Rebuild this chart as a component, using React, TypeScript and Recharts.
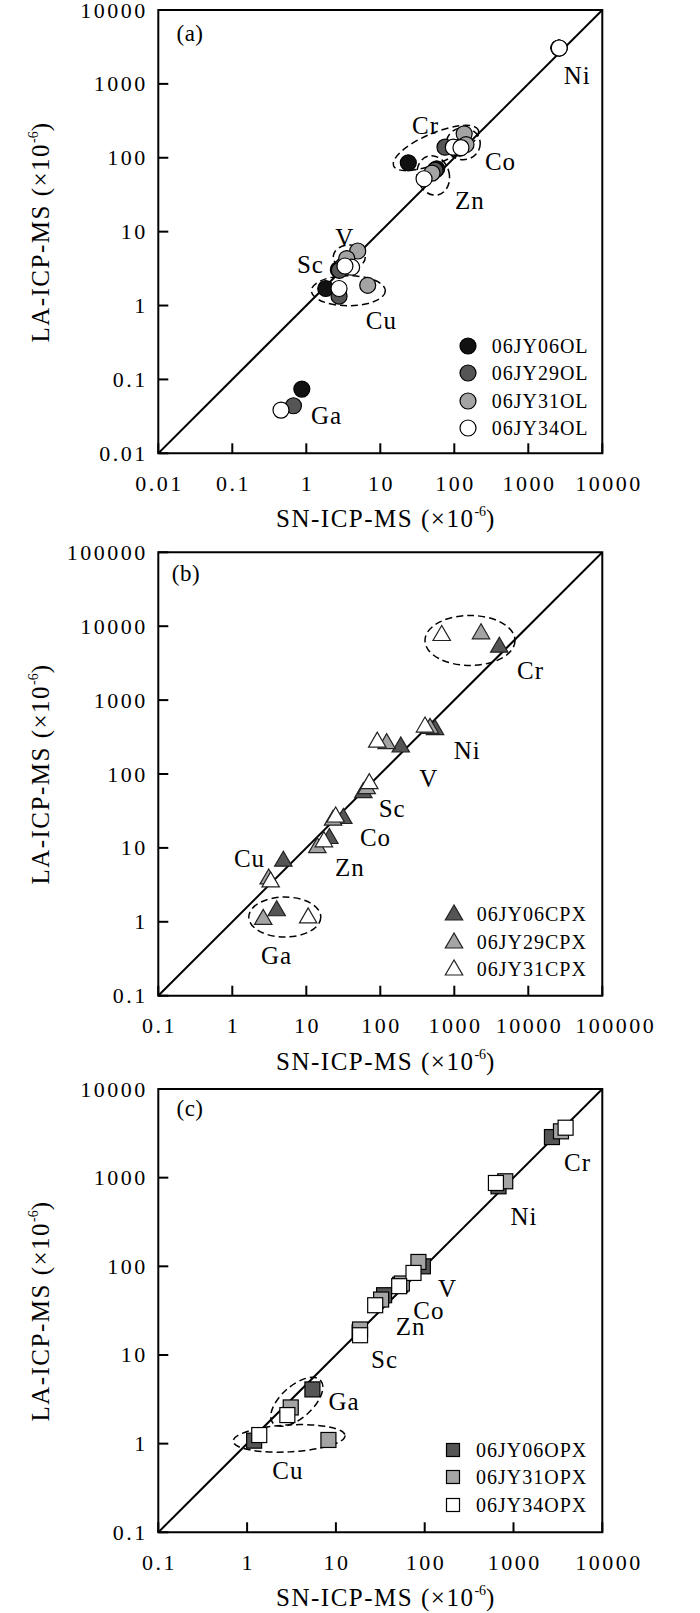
import React from 'react';
import { ScatterChart, Scatter, XAxis, YAxis, ReferenceArea } from 'recharts';

const SERIF = '"Liberation Serif", "Times New Roman", serif';
const BLACK = '#111111';
const DARK = '#555555';
const GREY = '#a4a4a4';
const WHITE = '#ffffff';

// (a) olivine
const OL_ELEMENTS = ['Ni', 'Cr', 'Co', 'Zn', 'V', 'Sc', 'Cu', 'Ga'];
const OL06_SN = [2600, 23.9, 118, 57.8, 3.2, 2.71, 1.83, 0.87];
const OL06_LA = [3060, 85.5, 135, 71, 3.5, 3.06, 1.7, 0.074];
const OL29_SN = [2600, 74.8, 120, 55, 3.0, 2.8, 2.77, 0.67];
const OL29_LA = [3060, 139, 140, 68, 3.3, 3.0, 1.34, 0.044];
const OL31_SN = [2600, 136, 144, 50, 4.95, 3.52, 6.76, null];
const OL31_LA = [3060, 211, 151, 62, 5.47, 4.32, 1.88, null];
const OL34_SN = [2620, 97, 123, 39, 4.1, 3.33, 2.77, 0.455];
const OL34_LA = [3060, 139, 137, 52, 3.3, 3.43, 1.7, 0.0385];
const OL_LABEL_SN = [4510, 40.2, 415, 160, 3.26, 1.12, 10.2, 1.85];
const OL_LABEL_LA = [1295, 273, 90, 26.5, 8.3, 3.61, 0.62, 0.0322];
const A_TICKS = [0.01, 0.1, 1, 10, 100, 1000, 10000];

// (b) clinopyroxene
const CPX_ELEMENTS = ['Cr', 'Ni', 'V', 'Sc', 'Co', 'Zn', 'Cu', 'Ga'];
const CPX06_SN = [4056, 549, 189, 59, 31.6, 20.5, 4.89, 3.98];
const CPX06_LA = [5200, 398, 232, 56, 25, 13.4, 6.61, 1.41];
const CPX29_SN = [2296, 470, 122, 65.5, 23, 14.1, 3.1, 2.62];
const CPX29_LA = [7890, 415, 258, 63.5, 23.7, 10.1, 3.8, 1.08];
const CPX31_SN = [676, 402, 91, 71, 24.9, 17.3, 3.3, 10.6];
const CPX31_LA = [7480, 432, 270, 74, 26.2, 12.1, 3.47, 1.13];
const CPX_LABEL_SN = [10540, 1472, 445, 142.6, 84.8, 38.1, 1.68, 3.9];
const CPX_LABEL_LA = [2520, 209, 86.7, 34.1, 13.8, 5.43, 7.19, 0.355];
const B_TICKS = [0.1, 1, 10, 100, 1000, 10000, 100000];

// (c) orthopyroxene
const OPX_ELEMENTS = ['Cr', 'Ni', 'V', 'Co', 'Zn', 'Sc', 'Ga', 'Cu'];
const OPX06_SN = [2710, 678, 95.4, 53, 34.9, 18.5, 5.44, 1.2];
const OPX06_LA = [2870, 799, 100, 62, 47.2, 18, 4.09, 1.08];
const OPX31_SN = [3425, 807, 85, 55.3, 32.3, 18.7, 3.1, 8.24];
const OPX31_LA = [3330, 910, 112, 64, 42.2, 19.4, 2.56, 1.1];
const OPX34_SN = [3860, 634, 74.8, 51.6, 27.7, 18.7, 2.84, 1.37];
const OPX34_LA = [3660, 871, 84.2, 59.7, 36.4, 16.7, 2.1, 1.25];
const OPX_LABEL_SN = [5190, 1297, 178, 110, 68.6, 34.9, 12.2, 2.84];
const OPX_LABEL_LA = [1500, 360, 56.2, 32, 20.7, 8.9, 2.96, 0.504];
const C_TICKS = [0.1, 1, 10, 100, 1000, 10000];

// dashed ovals round element groups (centre in data units, size in px)
const OVALS_A = [
  { sn: 56.6, la: 135.6, rx: 46, ry: 15, angle: -23 },
  { sn: 132, la: 155, rx: 17, ry: 16, angle: 0 },
  { sn: 52, la: 57.7, rx: 16, ry: 20, angle: -15 },
  { sn: 3.81, la: 4.54, rx: 16, ry: 12, angle: 0 },
  { sn: 3.7, la: 1.585, rx: 37, ry: 15, angle: 0 },
];
const OVALS_B = [
  { sn: 1630, la: 6410, rx: 45, ry: 25, angle: 0 },
  { sn: 5.12, la: 1.16, rx: 36, ry: 20, angle: 0 },
];
const OVALS_C = [
  { sn: 3.63, la: 2.96, rx: 32, ry: 16, angle: -42 },
  { sn: 2.97, la: 1.146, rx: 56, ry: 13.5, angle: -3 },
];

function pairs(sn: (number | null)[], la: (number | null)[]) {
  return sn
    .map((s, i) => ({ sn: s, la: la[i] }))
    .filter((p) => p.sn != null && p.la != null);
}

function labels(names: string[], sn: number[], la: number[]) {
  return names.map((text, i) => ({ text, sn: sn[i], la: la[i] }));
}

const fmt = (v: number) => String(v);

function XTick(props: any) {
  const { x, y, payload, last } = props;
  // the last label sits to the right of its tick, as in the original figure
  return (
    <g>
      <line x1={x} x2={x} y1={y} y2={y - 10} stroke="#000" strokeWidth={2} />
      <text
        x={last ? x - 27 : x + 1.2}
        y={y + 37.5}
        textAnchor={last ? 'start' : 'middle'}
        fontFamily={SERIF}
        fontSize={22}
        letterSpacing={2.5}
        fill="#000"
      >
        {fmt(payload.value)}
      </text>
    </g>
  );
}

function YTick(props: any) {
  const { x, y, payload } = props;
  return (
    <g>
      <line x1={x} x2={x + 10} y1={y} y2={y} stroke="#000" strokeWidth={2} />
      <text x={x - 10.5} y={y + 7.5} textAnchor="end" fontFamily={SERIF} fontSize={22} letterSpacing={2.5} fill="#000">
        {fmt(payload.value)}
      </text>
    </g>
  );
}

type Kind = 'circle' | 'triangle' | 'square';

function marker(kind: Kind, fill: string, cx: number, cy: number, legend = false) {
  if (kind === 'circle') {
    return <circle cx={cx} cy={cy} r={8} fill={fill} stroke="#000" strokeWidth={1.2} />;
  }
  if (kind === 'triangle') {
    return (
      <polygon
        points={`${cx},${cy - 10} ${cx - 8.7},${cy + 5} ${cx + 8.7},${cy + 5}`}
        fill={fill}
        stroke="#222"
        strokeWidth={1.2}
      />
    );
  }
  const s = legend ? 13 : 15;
  return <rect x={cx - s / 2} y={cy - s / 2} width={s} height={s} fill={fill} stroke="#000" strokeWidth={1.2} />;
}

const nothing = () => <g />;

function ovalShape(p: any) {
  const d = p.payload ?? p;
  return (
    <ellipse
      cx={p.cx}
      cy={p.cy}
      rx={d.rx}
      ry={d.ry}
      transform={`rotate(${d.angle} ${p.cx} ${p.cy})`}
      fill="none"
      stroke="#000"
      strokeWidth={1.5}
      strokeDasharray="7 4"
    />
  );
}

function labelShape(p: any) {
  const d = p.payload ?? p;
  return (
    <text x={p.cx + 0.5} y={p.cy} dy="0.34em" textAnchor="middle" fontFamily={SERIF} fontSize={25} letterSpacing={1} fill="#000">
      {d.text}
    </text>
  );
}

type Series = { name: string; fill: string; data: { sn: number | null; la: number | null }[] };

type PanelProps = {
  top: number;
  height: number;
  plotTop: number;
  plotBottom: number;
  lo: number;
  hi: number;
  ticks: number[];
  kind: Kind;
  series: Series[];
  tags: { text: string; sn: number; la: number }[];
  ovals: { sn: number; la: number; rx: number; ry: number; angle: number }[];
  letter: string;
  letterPos: [number, number];
  legendX: number;
  legendRows: number[];
  legendTextX: number;
};

function Panel(p: PanelProps) {
  const plotLeft = 158.3;
  const plotRight = 602.3;
  const margin = {
    top: p.plotTop - p.top,
    bottom: p.top + p.height - p.plotBottom - 1,
    left: plotLeft - 1,
    right: 700 - plotRight,
  };
  const diag = [
    { sn: p.lo, la: p.lo },
    { sn: p.hi, la: p.hi },
  ];
  const mid = (p.plotTop + p.plotBottom) / 2;
  const axisTitle = (text: string) => (
    <>
      {text} (×10
      <sup style={{ fontSize: 14, lineHeight: 0, verticalAlign: '0.72em', letterSpacing: 0 }}>-6</sup>)
    </>
  );
  const titleStyle: React.CSSProperties = {
    position: 'absolute',
    whiteSpace: 'nowrap',
    fontFamily: SERIF,
    fontSize: 25,
    letterSpacing: 1.5,
    lineHeight: 1,
    color: '#000',
  };
  return (
    <>
      <div style={{ position: 'absolute', left: 0, top: p.top }}>
        <ScatterChart width={700} height={p.height} margin={margin} style={{ overflow: 'visible' }}>
          <XAxis
            dataKey="sn"
            type="number"
            scale="log"
            domain={[p.lo, p.hi]}
            ticks={p.ticks}
            allowDataOverflow
            interval={0}
            height={1}
            axisLine={false}
            tickLine={false}
            tickSize={0}
            tickMargin={0}
            tick={(t: any) => <XTick {...t} last={t.payload?.value === p.hi} />}
          />
          <YAxis
            dataKey="la"
            type="number"
            scale="log"
            domain={[p.lo, p.hi]}
            ticks={p.ticks}
            allowDataOverflow
            interval={0}
            width={1}
            axisLine={false}
            tickLine={false}
            tickSize={0}
            tickMargin={0}
            tick={(t: any) => <YTick {...t} />}
          />
          <ReferenceArea x1={p.lo} x2={p.hi} y1={p.lo} y2={p.hi} fill="none" stroke="#000" strokeWidth={2} ifOverflow="visible" />
          <Scatter data={diag} line={{ stroke: '#000', strokeWidth: 2 }} shape={nothing} isAnimationActive={false} />
          <Scatter data={p.ovals} shape={ovalShape} isAnimationActive={false} />
          {p.series.map((s) => (
            <Scatter
              key={s.name}
              name={s.name}
              data={s.data}
              shape={(q: any) => marker(p.kind, s.fill, q.cx, q.cy)}
              isAnimationActive={false}
            />
          ))}
          <Scatter data={p.tags} shape={labelShape} isAnimationActive={false} />
        </ScatterChart>
      </div>
      <div
        style={{
          ...titleStyle,
          fontSize: 23,
          letterSpacing: 0.5,
          left: p.letterPos[0],
          top: p.letterPos[1],
          transform: 'translate(-50%, -50%)',
        }}
      >
        {p.letter}
      </div>
      <div style={{ ...titleStyle, left: 386, top: p.plotBottom + 65, transform: 'translate(-50%, -50%)' }}>
        {axisTitle('SN-ICP-MS')}
      </div>
      <div style={{ ...titleStyle, left: 40, top: mid, transform: 'translate(-50%, -50%) rotate(-90deg)' }}>
        {axisTitle('LA-ICP-MS')}
      </div>
      {p.series.map((s, i) => (
        <React.Fragment key={s.name}>
          <svg
            width={24}
            height={24}
            style={{ position: 'absolute', left: p.legendX - 12, top: p.legendRows[i] - 12 }}
          >
            {marker(p.kind, s.fill, 12, p.kind === 'triangle' ? 13 : 12, true)}
          </svg>
          <div
            style={{
              ...titleStyle,
              fontSize: 20,
              letterSpacing: 1,
              left: p.legendTextX,
              top: p.legendRows[i],
              transform: 'translateY(-50%)',
            }}
          >
            {s.name}
          </div>
        </React.Fragment>
      ))}
    </>
  );
}

export default function App() {
  return (
    <div style={{ position: 'relative', width: 700, height: 1613, background: '#fff', overflow: 'hidden' }}>
      <style>{'body{margin:0;background:#fff}'}</style>
      <Panel
        top={0}
        height={540}
        plotTop={10}
        plotBottom={453.3}
        lo={0.01}
        hi={10000}
        ticks={A_TICKS}
        kind="circle"
        series={[
          { name: '06JY06OL', fill: BLACK, data: pairs(OL06_SN, OL06_LA) },
          { name: '06JY29OL', fill: DARK, data: pairs(OL29_SN, OL29_LA) },
          { name: '06JY31OL', fill: GREY, data: pairs(OL31_SN, OL31_LA) },
          { name: '06JY34OL', fill: WHITE, data: pairs(OL34_SN, OL34_LA) },
        ]}
        tags={labels(OL_ELEMENTS, OL_LABEL_SN, OL_LABEL_LA)}
        ovals={OVALS_A}
        letter="(a)"
        letterPos={[190, 33.3]}
        legendX={468.3}
        legendRows={[346, 373.3, 400.7, 428.3]}
        legendTextX={491.7}
      />
      <Panel
        top={540}
        height={540}
        plotTop={552.3}
        plotBottom={995.7}
        lo={0.1}
        hi={100000}
        ticks={B_TICKS}
        kind="triangle"
        series={[
          { name: '06JY06CPX', fill: DARK, data: pairs(CPX06_SN, CPX06_LA) },
          { name: '06JY29CPX', fill: GREY, data: pairs(CPX29_SN, CPX29_LA) },
          { name: '06JY31CPX', fill: WHITE, data: pairs(CPX31_SN, CPX31_LA) },
        ]}
        tags={labels(CPX_ELEMENTS, CPX_LABEL_SN, CPX_LABEL_LA)}
        ovals={OVALS_B}
        letter="(b)"
        letterPos={[186, 573.3]}
        legendX={454.3}
        legendRows={[914, 941.7, 969.3]}
        legendTextX={476.7}
      />
      <Panel
        top={1080}
        height={533}
        plotTop={1089}
        plotBottom={1532.3}
        lo={0.1}
        hi={10000}
        ticks={C_TICKS}
        kind="square"
        series={[
          { name: '06JY06OPX', fill: DARK, data: pairs(OPX06_SN, OPX06_LA) },
          { name: '06JY31OPX', fill: GREY, data: pairs(OPX31_SN, OPX31_LA) },
          { name: '06JY34OPX', fill: WHITE, data: pairs(OPX34_SN, OPX34_LA) },
        ]}
        tags={labels(OPX_ELEMENTS, OPX_LABEL_SN, OPX_LABEL_LA)}
        ovals={OVALS_C}
        letter="(c)"
        letterPos={[190, 1108.3]}
        legendX={452.7}
        legendRows={[1450, 1477.3, 1505]}
        legendTextX={476}
      />
    </div>
  );
}
